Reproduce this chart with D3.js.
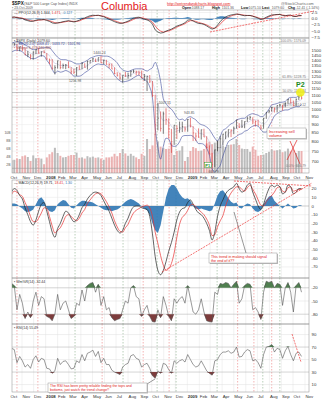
<!DOCTYPE html>
<html>
<head>
<meta charset="utf-8">
<script src="https://cdn.jsdelivr.net/npm/d3@7"></script>
<style>
  body { margin: 0; background: #fff; }
  svg { display: block; font-family: "Liberation Sans", Arial, sans-serif; }
</style>
</head>
<body>
<svg id="chart" width="329" height="400"></svg>
<script>
// ---- weekly S&P 500 data, Oct 2007 – Oct 2009 ----
const weeks = d3.timeFriday.range(new Date(2007, 9, 5), new Date(2009, 9, 24));

const closes = [
  1557.59,1561.80,1500.63,1535.28, 1509.65,1453.70,1458.74,1440.70,1481.14, 1504.66,1467.95,1484.46,1478.49,
  1411.63,1401.02,1325.19,1330.61, 1395.42,1331.29,1349.99,1353.11,1330.63, 1293.37,1288.14,1329.51,1315.22,
  1370.40,1332.83,1390.33,1397.84, 1413.90,1388.28,1425.35,1375.93,1400.38, 1360.68,1360.03,1317.93,1278.38,
  1262.90,1239.49,1260.68,1257.76, 1260.31,1296.32,1298.20,1292.20,1282.83, 1242.31,1251.70,1255.08,1213.27,
  1099.23,899.22,940.55,876.77,968.75, 930.99,873.29,800.03,896.24, 876.07,879.73,887.88,872.80,
  931.80,890.35,850.12,831.95,825.88, 868.60,826.84,770.05,735.09, 683.38,756.55,768.54,815.94,
  842.50,856.56,869.60,866.23, 877.52,929.23,882.88,887.00,919.14, 940.09,946.21,921.23,918.90,
  896.42,879.13,940.38,979.26,987.48, 1010.48,1004.09,1026.13,1028.93, 1016.40,1042.73,1068.30,1044.38,
  1025.21,1071.49,1087.68,1079.60
];
const highs = [
  1561,1576,1565,1535, 1552,1520,1493,1460,1488, 1508,1523,1486,1499,
  1471,1416,1412,1352, 1397,1396,1368,1364,1388, 1335,1321,1335,1352,
  1380,1371,1395,1399, 1422,1416,1426,1440,1406, 1404,1371,1370,1333,
  1290,1285,1262,1292, 1285,1305,1313,1303,1303, 1304,1274,1255,1265,
  1214,1104,1044,985,984, 1007,940,874,897, 896,919,918,890,
  935,943,890,851,877, 870,875,831,780, 741,758,804,832,
  845,857,870,871, 888,930,909,930,920, 951,956,946,926,
  931,898,942,980,996, 1018,1013,1027,1039, 1031,1048,1074,1080,
  1061,1076,1096,1101
];
const lows = [
  1520,1546,1500,1490, 1490,1450,1430,1407,1406, 1460,1465,1435,1468,
  1406,1364,1312,1270, 1322,1316,1321,1317,1327, 1272,1274,1257,1312,
  1315,1331,1313,1370, 1385,1383,1386,1373,1362, 1358,1326,1317,1272,
  1252,1225,1200,1248, 1234,1250,1282,1261,1262, 1236,1214,1133,1197,
  1088,840,865,858,845, 899,818,741,783, 815,851,855,857,
  857,883,804,804,822, 812,826,765,734, 666.79,672,749,768,
  780,814,824,826, 843,875,879,879,878, 916,929,903,888,
  896,869,875,936,973, 984,978,978,1017, 991,1014,1040,1041,
  1020,1025,1066,1070
];
// average daily volume, billions of shares
const volumes = [
  3.2,3.3,3.6,3.5, 4.2,4.4,4.0,3.0,4.4, 3.7,3.8,3.6,2.2,
  3.9,4.7,5.2,6.3, 5.0,4.3,3.9,4.0,4.3, 4.5,4.5,5.1,3.8,
  3.9,3.6,4.2,3.9, 4.1,3.8,3.9,3.6,3.3, 3.9,3.9,4.1,4.8,
  4.2,5.0,6.0,4.9, 4.3,4.8,4.3,3.9,3.5, 4.8,4.3,8.5,6.0,
  6.9,9.8,7.9,6.6,6.2, 6.0,6.1,7.4,4.5, 5.5,5.6,6.7,3.0,
  4.0,5.5,6.5,6.2,5.5, 5.6,6.0,7.4,7.8, 7.2,7.6,8.3,6.5,
  6.8,6.5,7.0,7.1, 7.2,8.5,7.0,6.1,6.0, 6.0,5.3,6.6,5.8,
  4.3,4.5,4.6,5.0,5.3, 5.9,5.6,5.7,5.8, 5.2,5.4,6.1,5.4,
  5.8,5.0,5.5,5.5
];
const bbUpper = [
  1570,1585,1590,1585,1575,1555,1540,1520,1505,1510,1515,1525,1525,
  1530,1525,1495,1460,1430,1410,1405,1405,1395,1390,
  1375,1365,1365,1375,1385,1400,1420,1430,1440,1445,
  1445,1440,1440,1435,1420,1400,1375,1335,1310,1300,
  1295,1305,1315,1320,1320,1320,1310,1300,1315,1330,
  1380,1320,1210,1075,1040,1015,1000,975,945,930,
  935,925,
  945,950,940,930,910, 900,895,885,870, 845,820,805,830,
  865,875,890,905, 912,930,935,940,940, 955,965,970,965,
  960,950,955,975,1000, 1030,1035,1040,1048, 1050,1055,1075,1085,
  1085,1085,1098,1102
];
const bbLower = [
  1480,1495,1500,1495,1485,1455,1440,1420,1415,1420,1435,1445,1440,
  1400,1365,1315,1280,1300,1290,1295,1305,1295,1280,
  1255,1255,1255,1265,1285,1300,1320,1340,1356,1365,
  1360,1360,1345,1325,1300,1260,1235,1215,1206,1210,
  1215,1225,1241,1254,1264,1240,1226,1210,1165,1080,
  880,770,710,775,820,815,780,775,780,800,
  830,835,
  835,836,830,810,790, 790,785,765,730, 665,650,665,680,
  725,765,800,811, 820,830,841,846,860, 865,880,890,895,
  890,870,855,855,890, 920,955,970,982, 990,995,995,1005,
  1011,1019,1018,1034
];
// percentage price oscillator (top pane)
const ppoLine = [
  0.6,0.7,0.4,0.2,0.1,-0.5,-0.8,-1.1,-1.0,-0.6,-0.4,-0.4,-0.3,
  -0.7,-1.1,-1.7,-1.9,-1.7,-1.5,-1.2,-1.0,-0.8,-1.1,-1.3,-1.0,-0.6,
  0.0,0.3,0.8,1.2,1.4,1.3,1.4,1.1,0.8,0.3,-0.2,-0.7,-1.2,
  -1.6,-1.9,-1.8,-1.4,-1.0,-0.4,0.2,0.5,0.6,0.2,-0.2,-0.5,-1.0,
  -2.2,-4.5,-5.4,-5.8,-5.6,-5.0,-4.6,-4.2,-3.6,-3.0,-2.6,-2.2,-1.6,
  -0.6,-0.4,-0.9,-1.5,-1.9,-2.0,-2.3,-2.9,-3.6,-4.2,-3.8,-2.6,-1.2,
  0.0,0.7,1.2,1.5,1.7,1.9,1.7,1.4,1.2,1.3,1.3,1.0,0.6,
  0.2,-0.3,0.0,0.6,1.1,1.5,1.6,1.7,1.7,1.3,1.2,1.4,1.4,
  0.9,0.9,1.3,1.3
];
const ppoSignal = [
  0.5,0.6,0.5,0.4,0.2,-0.1,-0.5,-0.8,-0.9,-0.8,-0.6,-0.5,-0.4,
  -0.5,-0.8,-1.2,-1.6,-1.7,-1.6,-1.4,-1.2,-1.0,-1.0,-1.1,-1.1,-0.9,
  -0.4,0.0,0.4,0.8,1.1,1.3,1.3,1.2,1.0,0.6,0.2,-0.3,-0.8,
  -1.2,-1.6,-1.8,-1.6,-1.3,-0.8,-0.3,0.2,0.4,0.4,0.1,-0.2,-0.6,
  -1.4,-2.9,-4.2,-5.0,-5.4,-5.2,-4.9,-4.5,-4.0,-3.4,-2.9,-2.5,-2.0,
  -1.3,-0.8,-0.8,-1.1,-1.5,-1.8,-2.1,-2.5,-3.1,-3.7,-3.9,-3.3,-2.2,
  -1.0,-0.1,0.6,1.1,1.4,1.7,1.8,1.6,1.4,1.3,1.3,1.1,0.8,
  0.4,0.0,-0.1,0.3,0.8,1.2,1.5,1.6,1.7,1.5,1.3,1.3,1.4,
  1.1,0.9,1.1,1.2
];
// MACD(12,26,9) line and histogram
const macdLine = [
  16,20,18,12,8,-2,-10,-18,-22,-16,-6,2,4,
  -6,-18,-30,-36,-26,-20,-12,-6,-8,-14,
  -18,-16,-10,-2,2,8,12,15,16,15,
  12,6,0,-6,-14,-22,-28,-31,-28,-20,
  -14,-6,-1,0,0,-2,-3,-4,-12,-32,
  -58,-74,-79,-74,-64,-52,-42,-30,-16,-7,-3,-2,
  4,7,2,-4,-8, -10,-14,-20,-28, -39,-30,-12,0,
  7,14,18,20, 22,26,20,16,18, 24,26,16,8,
  0,-4,2,12,20, 24,22,24,22, 14,16,24,22,
  14,16,20,20
];
const macdHist = [
  3,3,2,-1,-3,-6,-7,-6,-4,2,8,10,6,
  -3,-6,-7,-5,2,5,7,6,2,-2,
  -3,1,4,6,6,5,5,4,2,0,
  -2,-4,-5,-5,-6,-5,-4,-2,2,5,
  7,8,7,5,3,-1,-3,-5,-10,-20,
  -28,-31,-22,-6,10,20,24,24,20,14,10,8,
  9,6,0,-3,-4, -3,-4,-5,-6, -5,3,12,17,
  18,14,9,5, 3,4,-2,-3,1, 3,2,-3,-6,
  -7,-5,2,7,11, 12,6,3,0, -3,0,3,0,
  -3,-2,1,1
];
// Williams %R(14)
const willR = [
  -10,-15,-70,-35,-55,-90,-75,-88,-50,-30,-60,-40,-45,
  -85,-88,-95,-80,-35,-70,-55,-50,-70,-90,-85,-55,-60,
  -25,-50,-15,-10,-8,-30,-12,-60,-40,-70,-65,-88,-95,
  -92,-90,-70,-50,-55,-20,-15,-40,-45,-85,-70,-60,-85,
  -97,-98,-70,-88,-40,-60,-85,-95,-45,-55,-45,-40,-55,
  -15,-45,-75,-80,-70,-45,-75,-95,-97,-98,-30,-35,-10,
  -12,-8,-10,-20,-12,-5,-55,-45,-15,-10,-12,-70,-65,
  -75,-92,-30,-5,-8,-5,-20,-10,-12,-60,-20,-8,-30,
  -75,-15,-8,-30
];
// RSI(14)
const rsi = [
  68,66,45,55,48,38,42,36,50,56,46,52,50,
  36,35,28,32,52,42,47,48,42,35,36,48,45,
  58,48,60,62,65,55,63,45,52,42,42,33,30,
  28,26,38,42,44,56,58,52,50,38,42,44,36,
  24,20,32,28,44,42,34,28,48,44,48,50,46,
  58,50,42,38,40,48,40,32,28,25,48,50,58,
  62,62,64,60,62,70,54,55,62,66,64,48,50,
  45,36,58,70,71,74,62,68,66,52,64,71,58,
  48,60,62,55
];

const priceTicks = d3.range(700, 1501, 50);
const ppoTicks = [2.5, 0, -2.5, -5, -7.5];
const macdTicks = [20, 10, 0, -10, -20, -30, -40, -50, -60, -70];
const willTicks = [-20, -50, -80];
const rsiTicks = [90, 70, 50, 30, 10];
const volTicks = [2, 4, 6, 8, 10];
const fibLevels = [
  { label: "100.0%: 1576.09", v: 1576.09 },
  { label: "61.8%: 1228.75", v: 1228.75 },
  { label: "50.0%: 1121.44", v: 1121.44 },
  { label: "38.2%: 1014.12", v: 1014.12 },
  { label: "0.0%: 666.79", v: 666.79 }
];
const priceNotes = [
  { d: new Date(2008, 4, 19), v: 1440.24, dy: -2 },
  { d: new Date(2008, 2, 17), v: 1256.98, dy: 6 },
  { d: new Date(2008, 10, 4), v: 1007.51, dy: -4 },
  { d: new Date(2009, 0, 6), v: 943.85, dy: -4 },
  { d: new Date(2009, 2, 10), v: 666.79, dy: 5 }
];
const redEvents = [new Date(2007,9,19), new Date(2007,11,12), new Date(2008,4,26), new Date(2008,8,9),
                   new Date(2008,10,15), new Date(2009,4,11), new Date(2009,5,22), new Date(2009,7,7)];
const greenEvents = [new Date(2008,2,17), new Date(2008,6,19), new Date(2008,9,15), new Date(2008,11,3),
                     new Date(2009,2,19), new Date(2009,6,15), new Date(2009,7,28)];

// ---- layout ----
const svg = d3.select("#chart");
const L = 12, R = 309;
const panes = {
  ppo:   { top: 10,  bottom: 38 },
  price: { top: 38,  bottom: 173 },
  macd:  { top: 180, bottom: 278 },
  will:  { top: 278, bottom: 324 },
  rsi:   { top: 324, bottom: 392 }
};

const x = d3.scaleTime().domain([new Date(2007, 9, 1), new Date(2009, 10, 1)]).range([10, 305]);
const yP = d3.scaleLog().domain([650, 1631]).range([172, 38]);
const yV = d3.scaleLinear().domain([0, 10]).range([173, 133]);
const yPPO = d3.scaleLinear().domain([-7.5, 2.5]).range([37.3, 12.5]);
const yM = d3.scaleLinear().domain([-70, 20]).range([266.9, 188.6]);
const yW = d3.scaleLinear().domain([-100, 0]).range([323, 279]);
const yR = d3.scaleLinear().domain([0, 100]).range([390.8, 328.3]);

const rows = weeks.map((d, i) => ({
  date: d, close: closes[i], high: highs[i], low: lows[i], vol: volumes[i],
  up: i === 0 ? true : closes[i] >= closes[i - 1],
  bbU: bbUpper[i], bbL: bbLower[i],
  ppo: ppoLine[i], ppoSig: ppoSignal[i],
  macd: macdLine[i], hist: macdHist[i], sig: macdLine[i] - macdHist[i],
  will: willR[i], rsi: rsi[i]
}));

const defs = svg.append("defs");
Object.entries(panes).forEach(([k, p]) => {
  defs.append("clipPath").attr("id", "clip-" + k)
    .append("rect").attr("x", L).attr("y", p.top).attr("width", R - L).attr("height", p.bottom - p.top);
});

const months = d3.timeMonth.range(new Date(2007, 9, 1), new Date(2009, 10, 2));
const fmtMonth = d => d.getMonth() === 0 ? d3.timeFormat("%Y")(d) : d3.timeFormat("%b")(d);

// pane backgrounds, month grid, event lines
Object.entries(panes).forEach(([k, p]) => {
  const g = svg.append("g").attr("clip-path", `url(#clip-${k})`);
  g.append("rect").attr("x", L).attr("y", p.top).attr("width", R - L).attr("height", p.bottom - p.top)
    .attr("fill", "#fff");
  g.selectAll("line.m").data(months).join("line")
    .attr("x1", d => x(d)).attr("x2", d => x(d)).attr("y1", p.top).attr("y2", p.bottom)
    .attr("stroke", "#e4e4e4").attr("stroke-width", 0.5);
  g.selectAll("line.r").data(redEvents).join("line")
    .attr("x1", d => x(d)).attr("x2", d => x(d)).attr("y1", p.top).attr("y2", p.bottom)
    .attr("stroke", "#ec8080").attr("stroke-width", 0.6).attr("stroke-dasharray", "1.5,1.5");
  svg.append("g").attr("clip-path", `url(#clip-${k})`).selectAll("line").data(greenEvents).join("line")
    .attr("x1", d => x(d)).attr("x2", d => x(d)).attr("y1", p.top).attr("y2", p.bottom)
    .attr("stroke", "#8aae8a").attr("stroke-width", 0.6).attr("stroke-dasharray", "1.5,1.5");
});

function hGrid(key, scale, ticks, color) {
  svg.append("g").attr("clip-path", `url(#clip-${key})`).selectAll("line").data(ticks).join("line")
    .attr("x1", L).attr("x2", R).attr("y1", d => scale(d)).attr("y2", d => scale(d))
    .attr("stroke", typeof color === "function" ? color : () => color).attr("stroke-width", 0.5);
}
function rightLabels(scale, ticks, fmt) {
  svg.append("g").selectAll("text").data(ticks).join("text")
    .attr("x", R + 2.5).attr("y", d => scale(d) + 1.5).attr("font-size", 4.3).attr("fill", "#333")
    .text(fmt || (d => d));
}

// ---- top pane: PPO ----
hGrid("ppo", yPPO, ppoTicks, d => d === 0 ? "#aaa" : "#e2e2e2");
rightLabels(yPPO, ppoTicks, d => d3.format(".1f")(d));
{
  const g = svg.append("g").attr("clip-path", "url(#clip-ppo)");
  g.append("path").datum(rows)
    .attr("d", d3.area().x(d => x(d.date)).y0(yPPO(0)).y1(d => yPPO(d.ppo - d.ppoSig)))
    .attr("fill", "#2f77b4").attr("opacity", 0.9);
  g.append("path").datum(rows)
    .attr("d", d3.line().x(d => x(d.date)).y(d => yPPO(d.ppoSig)))
    .attr("fill", "none").attr("stroke", "#e83030").attr("stroke-width", 0.7);
  g.append("path").datum(rows)
    .attr("d", d3.line().x(d => x(d.date)).y(d => yPPO(d.ppo)))
    .attr("fill", "none").attr("stroke", "#222").attr("stroke-width", 0.7);
}

// ---- price pane ----
hGrid("price", yP, priceTicks, "#e8e8e8");
rightLabels(yP, priceTicks);
{
  const g = svg.append("g").attr("clip-path", "url(#clip-price)");
  // volume
  g.selectAll("rect.vol").data(rows).join("rect")
    .attr("x", d => x(d.date) - 1).attr("width", 2)
    .attr("y", d => yV(d.vol)).attr("height", d => yV(0) - yV(d.vol))
    .attr("fill", d => d.up ? "#b0b0b0" : "#e8a4a4").attr("opacity", 0.85);
  // fibonacci levels
  g.selectAll("line.fib").data(fibLevels).join("line")
    .attr("x1", L).attr("x2", R).attr("y1", d => yP(d.v)).attr("y2", d => yP(d.v))
    .attr("stroke", "#9a9a9a").attr("stroke-width", 0.6);
  g.selectAll("text.fib").data(fibLevels).join("text")
    .attr("x", 306).attr("y", d => yP(d.v) - 1).attr("text-anchor", "end")
    .attr("font-size", 3.4).attr("fill", "#777").text(d => d.label);
  // bollinger bands
  const bandLine = acc => d3.line().x(d => x(d.date)).y(d => yP(acc(d))).curve(d3.curveMonotoneX);
  g.append("path").datum(rows).attr("d", bandLine(d => (d.bbU + d.bbL) / 2))
    .attr("fill", "none").attr("stroke", "#b7b7d8").attr("stroke-width", 0.5);
  g.append("path").datum(rows).attr("d", bandLine(d => d.bbU))
    .attr("fill", "none").attr("stroke", "#3c4a9c").attr("stroke-width", 0.6);
  g.append("path").datum(rows).attr("d", bandLine(d => d.bbL))
    .attr("fill", "none").attr("stroke", "#3c4a9c").attr("stroke-width", 0.6);
  // price bars
  g.selectAll("line.hl").data(rows).join("line")
    .attr("x1", d => x(d.date)).attr("x2", d => x(d.date))
    .attr("y1", d => yP(d.high)).attr("y2", d => yP(d.low))
    .attr("stroke", d => d.up ? "#222" : "#d63030").attr("stroke-width", 0.6);
  g.selectAll("line.cl").data(rows).join("line")
    .attr("x1", d => x(d.date)).attr("x2", d => x(d.date) + 1)
    .attr("y1", d => yP(d.close)).attr("y2", d => yP(d.close))
    .attr("stroke", d => d.up ? "#222" : "#d63030").attr("stroke-width", 0.5);
  // swing labels
  g.selectAll("text.note").data(priceNotes).join("text")
    .attr("x", d => x(d.d)).attr("y", d => yP(d.v) + d.dy).attr("text-anchor", "middle")
    .attr("font-size", 3.4).attr("fill", "#555").text(d => d3.format(".2f")(d.v));
}
// volume axis on the left
svg.append("g").selectAll("text").data(volTicks).join("text")
  .attr("x", 10.5).attr("y", d => yV(d) + 1.3).attr("text-anchor", "end")
  .attr("font-size", 3.4).attr("fill", "#555").text(d => d + "B");

// P1 / P2 markers
svg.append("circle").attr("cx", x(new Date(2009, 9, 20))).attr("cy", yP(1121.44)).attr("r", 4.3)
  .attr("fill", "#f0ee10").attr("opacity", 0.85);
svg.append("text").attr("x", 296).attr("y", 87).attr("font-size", 7).attr("font-weight", "bold")
  .attr("fill", "#1b8a1b").text("P2");
svg.append("rect").attr("x", 204.5).attr("y", 162.5).attr("width", 7).attr("height", 5)
  .attr("fill", "#fff").attr("stroke", "#2a9a2a").attr("stroke-width", 0.5);
svg.append("text").attr("x", 205.3).attr("y", 166.7).attr("font-size", 4).attr("font-weight", "bold")
  .attr("fill", "#1b8a1b").text("P1");

// ---- MACD pane ----
hGrid("macd", yM, macdTicks, d => d === 0 ? "#999" : "#e4e4e4");
rightLabels(yM, macdTicks);
{
  const g = svg.append("g").attr("clip-path", "url(#clip-macd)");
  g.append("path").datum(rows)
    .attr("d", d3.area().x(d => x(d.date)).y0(yM(0)).y1(d => yM(d.hist)))
    .attr("fill", "#2f77b4").attr("opacity", 0.9);
  g.append("path").datum(rows)
    .attr("d", d3.line().x(d => x(d.date)).y(d => yM(d.sig)).curve(d3.curveMonotoneX))
    .attr("fill", "none").attr("stroke", "#e83030").attr("stroke-width", 0.7);
  g.append("path").datum(rows)
    .attr("d", d3.line().x(d => x(d.date)).y(d => yM(d.macd)).curve(d3.curveMonotoneX))
    .attr("fill", "none").attr("stroke", "#222").attr("stroke-width", 0.7);
}

// ---- Williams %R pane ----
hGrid("will", yW, willTicks, d => d === -50 ? "#dcdcdc" : "#aaa");
rightLabels(yW, willTicks);
{
  const g = svg.append("g").attr("clip-path", "url(#clip-will)");
  g.append("path").datum(rows)
    .attr("d", d3.area().x(d => x(d.date)).y0(yW(-20)).y1(d => yW(Math.max(d.will, -20))))
    .attr("fill", "#4f7f4f");
  g.append("path").datum(rows)
    .attr("d", d3.area().x(d => x(d.date)).y0(yW(-80)).y1(d => yW(Math.min(d.will, -80))))
    .attr("fill", "#7d3c3c");
  g.append("path").datum(rows)
    .attr("d", d3.line().x(d => x(d.date)).y(d => yW(d.will)))
    .attr("fill", "none").attr("stroke", "#555").attr("stroke-width", 0.6);
}

// ---- RSI pane ----
hGrid("rsi", yR, rsiTicks, d => (d === 70 || d === 30) ? "#aaa" : "#e0e0e0");
rightLabels(yR, rsiTicks);
{
  const g = svg.append("g").attr("clip-path", "url(#clip-rsi)");
  g.append("path").datum(rows)
    .attr("d", d3.area().x(d => x(d.date)).y0(yR(70)).y1(d => yR(Math.max(d.rsi, 70))))
    .attr("fill", "#4f7f4f");
  g.append("path").datum(rows)
    .attr("d", d3.area().x(d => x(d.date)).y0(yR(30)).y1(d => yR(Math.min(d.rsi, 30))))
    .attr("fill", "#7d3c3c");
  g.append("path").datum(rows)
    .attr("d", d3.line().x(d => x(d.date)).y(d => yR(d.rsi)))
    .attr("fill", "none").attr("stroke", "#555").attr("stroke-width", 0.6);
}

// pane frames
Object.values(panes).forEach(p => {
  svg.append("rect").attr("x", L).attr("y", p.top).attr("width", R - L).attr("height", p.bottom - p.top)
    .attr("fill", "none").attr("stroke", "#8c8c8c").attr("stroke-width", 0.5);
});

// month axes
[178.6, 398].forEach(yy => {
  svg.append("g").selectAll("text").data(months).join("text")
    .attr("x", d => x(d) + 0.5).attr("y", yy).attr("font-size", 4.3)
    .attr("font-weight", d => d.getMonth() === 0 ? "bold" : "normal")
    .attr("fill", "#333").text(fmtMonth);
});

// ---- trend lines and notes ----
const dashed = (x1, y1, x2, y2) => svg.append("line")
  .attr("x1", x1).attr("y1", y1).attr("x2", x2).attr("y2", y2)
  .attr("stroke", "#ee3a3a").attr("stroke-width", 0.7).attr("stroke-dasharray", "2,1");
dashed(210, 32, 314, 11);
dashed(162, 272, 312, 183);
dashed(234, 181, 312, 186);
dashed(292, 334, 301, 362);
svg.append("line").attr("x1", 287).attr("y1", 160).attr("x2", 297).attr("y2", 140)
  .attr("stroke", "#e02020").attr("stroke-width", 0.7);
svg.append("line").attr("x1", 290).attr("y1", 141).attr("x2", 300).attr("y2", 164)
  .attr("stroke", "#e02020").attr("stroke-width", 0.7);
svg.append("line").attr("x1", 234).attr("y1", 212).attr("x2", 246).attr("y2", 253)
  .attr("stroke", "#333").attr("stroke-width", 0.5);
svg.append("line").attr("x1", 147).attr("y1", 384).attr("x2", 155).attr("y2", 379)
  .attr("stroke", "#333").attr("stroke-width", 0.5);

function noteBox(bx, by, bw, bh, lines, fs) {
  svg.append("rect").attr("x", bx + 1).attr("y", by + 1).attr("width", bw).attr("height", bh).attr("fill", "#bbb");
  svg.append("rect").attr("x", bx).attr("y", by).attr("width", bw).attr("height", bh)
    .attr("fill", "#fff").attr("stroke", "#999").attr("stroke-width", 0.5);
  lines.forEach((t, i) => svg.append("text").attr("x", bx + 2).attr("y", by + fs + 0.8 + i * (fs + 0.6))
    .attr("font-size", fs).attr("fill", "#e02020").text(t));
}
noteBox(267, 128, 39, 10.5, ["Increasing sell", "volume"], 4);
noteBox(209, 253, 68, 10, ["This trend in making should signal", "the end of it??"], 3.7);
noteBox(48, 383, 99, 9.5, ["The RSI has been pretty reliable finding the tops and", "bottoms, just watch the trend change!!"], 3.5);

// ---- header and legends ----
const txt = (tx, ty, s, fs, fill, extra) => {
  const t = svg.append("text").attr("x", tx).attr("y", ty).attr("font-size", fs).attr("fill", fill).text(s);
  if (extra) extra(t);
  return t;
};
txt(12, 5, "$SPX", 4.6, "#111", t => t.attr("font-weight", "bold"));
txt(24, 5, "(S&P 500 Large Cap Index) INDX", 3.6, "#555");
txt(12, 9, "▪ 23-Oct-2009", 3.4, "#555");
txt(101, 10, "Columbia", 11, "#e31b1b");
txt(167, 4.5, "http://wetrendandcharts.blogspot.com", 3.8, "#e31b1b", t => t.attr("text-decoration", "underline"));
txt(281, 4.5, "@StockCharts.com", 3.8, "#666");
[["Open", 182, "1088.17"], ["High", 212, "1101.36"], ["Low", 241, "1075.10"], ["Last", 262, "1079.60"], ["Chg", 288, "-12.41 (-1.14%)"]]
  .forEach(([k, xx, v]) => {
    txt(xx, 8.6, k, 3.6, "#111", t => t.attr("font-weight", "bold"));
    txt(xx + k.length * 2.2 + 1, 8.6, v, 3.4, "#555");
  });

function legend(lx, ly, parts) {
  const t = svg.append("text").attr("x", lx).attr("y", ly).attr("font-size", 3.5);
  parts.forEach(([s, c]) => t.append("tspan").attr("fill", c).text(s));
}
legend(14, 14, [["— PPO(12,26,9) ", "#333"], ["1.344", "#222"], [", ", "#333"], ["1.471", "#e83030"], [", ", "#333"], ["-0.127", "#2f77b4"]]);
legend(14, 41.5, [["▪ $SPX (Daily) 1079.60", "#333"]]);
legend(14, 45.3, [["— BB(20,2.0) 1068.41 - 1033.72 - 1101.96", "#3c4a9c"]]);
legend(14, 49, [["▪ Volume 5,478,940,800", "#a05050"]]);
legend(14, 184, [["— MACD(12,26,9) ", "#333"], ["19.71", "#222"], [", ", "#333"], ["18.41", "#e83030"], [", ", "#333"], ["1.30", "#2f77b4"]]);
legend(14, 282.5, [["▪ Wm%R(14) -32.44", "#333"]]);
legend(14, 328.5, [["▪ RSI(14) 55.49", "#333"]]);
</script>
</body>
</html>
